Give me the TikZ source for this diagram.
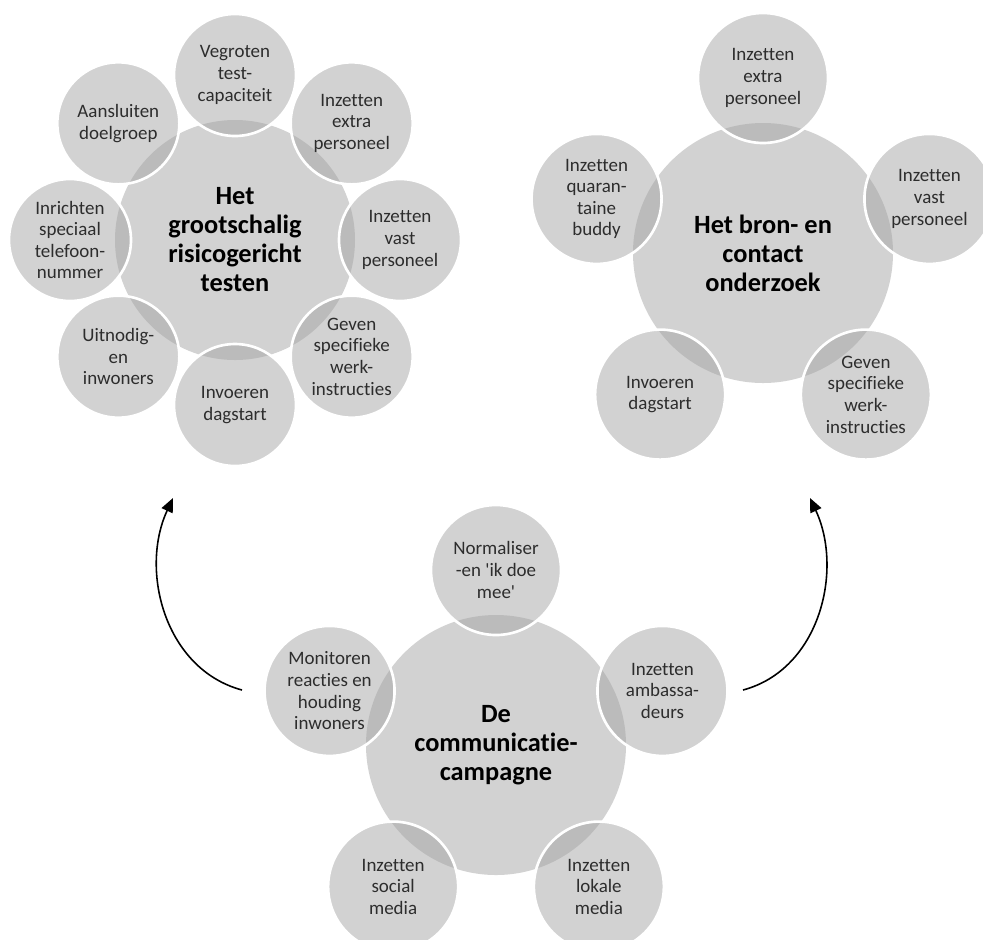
\documentclass[tikz,border=0pt]{standalone}
\usepackage{fontspec}
\setmainfont[Ligatures={NoCommon}]{Carlito}
\usetikzlibrary{arrows.meta}
\definecolor{schijf}{RGB}{210,210,210}
\definecolor{bol}{RGB}{165,165,165}
\definecolor{tekst}{RGB}{45,45,45}

\begin{document}
\begin{tikzpicture}[
    centre/.style ={circle, fill=schijf, inner sep=0pt, align=center, text=black,
                    font=\fontsize{15}{16.5}\selectfont\bfseries},
    satellite/.style ={circle, fill=bol, fill opacity=0.5, text opacity=1, draw=white,
                    line width=1.5pt, inner sep=0pt, align=center, text=tekst,
                    font=\fontsize{10.8}{12.3}\selectfont},
    pijl/.style ={line width=0.9pt, -{Triangle[length=2.8mm, width=2.4mm]}}]
   \useasboundingbox (0,0) rectangle (19.66,-18.78);

   % testen
   \begin{scope}[shift={(4.70,-4.80)}]
   \node[centre, minimum size=4.8cm] (T) at (0,0) {Het\\grootschalig\\risicogericht\\testen};
   \node[satellite, minimum size=2.44cm] (T1) at (90:3.3cm)   {Vegroten\\test-\\capaciteit};
   \node[satellite, minimum size=2.44cm] (T2) at (45:3.3cm)   {Inzetten\\extra\\personeel};
   \node[satellite, minimum size=2.44cm] (T3) at (0:3.3cm)    {Inzetten\\vast\\personeel};
   \node[satellite, minimum size=2.44cm] (T4) at (-45:3.3cm)  {Geven\\specifieke\\werk-\\instructies};
   \node[satellite, minimum size=2.44cm] (T5) at (-90:3.3cm)  {Invoeren\\dagstart};
   \node[satellite, minimum size=2.44cm] (T6) at (-135:3.3cm) {Uitnodig-\\en\\inwoners};
   \node[satellite, minimum size=2.44cm] (T7) at (180:3.3cm)  {Inrichten\\speciaal\\telefoon-\\nummer};
   \node[satellite, minimum size=2.44cm] (T8) at (135:3.3cm)  {Aansluiten\\doelgroep};
   \end{scope}

   % bron- en contactonderzoek
   \begin{scope}[shift={(15.26,-5.06)}]
   \node[centre, minimum size=5.2cm] (B) at (0,0) {Het bron- en\\contact\\onderzoek};
   \node[satellite, minimum size=2.6cm] (B1) at (90:3.5cm)   {Inzetten\\extra\\personeel};
   \node[satellite, minimum size=2.6cm] (B2) at (18:3.5cm)   {Inzetten\\vast\\personeel};
   \node[satellite, minimum size=2.6cm] (B3) at (-54:3.5cm)  {Geven\\specifieke\\werk-\\instructies};
   \node[satellite, minimum size=2.6cm] (B4) at (-126:3.5cm) {Invoeren\\dagstart};
   \node[satellite, minimum size=2.6cm] (B5) at (162:3.5cm)  {Inzetten\\quaran-\\taine\\buddy};
   \end{scope}

   % communicatiecampagne
   \begin{scope}[shift={(9.92,-14.90)}]
   \node[centre, minimum size=5.2cm] (C) at (0,0) {De\\communicatie-\\campagne};
   \node[satellite, minimum size=2.6cm] (C1) at (90:3.5cm)   {Normaliser\\-en \textquotesingle ik doe\\mee\textquotesingle};
   \node[satellite, minimum size=2.6cm] (C2) at (18:3.5cm)   {Inzetten\\ambassa-\\deurs};
   \node[satellite, minimum size=2.6cm] (C3) at (-54:3.5cm)  {Inzetten\\lokale\\media};
   \node[satellite, minimum size=2.6cm] (C4) at (-126:3.5cm) {Inzetten\\social\\media};
   \node[satellite, minimum size=2.6cm] (C5) at (162:3.5cm)  {Monitoren\\reacties en\\houding\\inwoners};
   \end{scope}

   \coordinate (L0) at (4.84,-13.80);
   \coordinate (L1) at (3.46,-9.96);
   \coordinate (R0) at (14.86,-13.80);
   \coordinate (R1) at (16.20,-9.96);
   \draw[pijl] (L0) to [out=165, in=245] (L1);
   \draw[pijl] (R0) to [out=15, in=-65] (R1);
 \end{tikzpicture}
\end{document}
